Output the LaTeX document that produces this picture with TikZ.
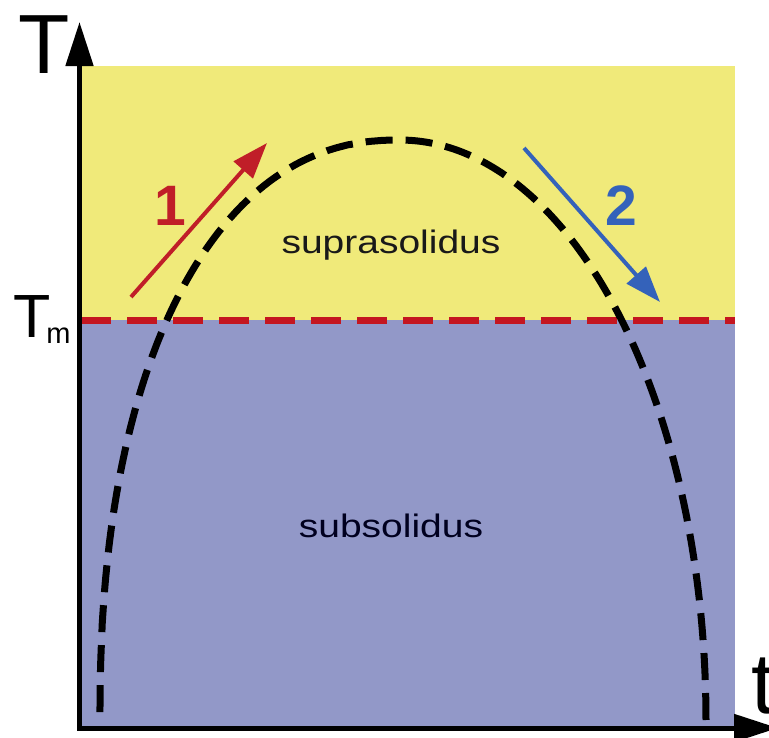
\documentclass[tikz,border=0pt]{standalone}
\usepackage{fontspec}
\setmainfont{Liberation Sans}
\usetikzlibrary{arrows.meta}
\definecolor{fillyellow}{RGB}{240,234,122}
\definecolor{fillblue}{RGB}{146,152,200}
\definecolor{tmred}{RGB}{196,22,32}
\definecolor{arrred}{RGB}{192,30,40}
\definecolor{arrblue}{RGB}{52,98,186}
\begin{document}
\begin{tikzpicture}[x=1pt,y=-1pt,
  axisline/.style={line width=5pt,-{Triangle[length=44pt,width=27pt]}},
  tmline/.style={tmred,line width=7pt,dash pattern=on 30pt off 16pt},
  curveline/.style={black,line width=7pt,dash pattern=on 27pt off 13pt},
  procarrow/.style={line width=4pt,-{Triangle[length=36pt,width=25pt]}},
  lbl/.style={inner sep=0pt,outer sep=0pt},
  regionlbl/.style={lbl,anchor=base,xscale=1.2,font=\fontsize{32.5}{33}\selectfont},
  numlbl/.style={lbl,anchor=base,font=\fontsize{57}{57}\selectfont\bfseries}]
\useasboundingbox (0,0) rectangle (769,737);
\clip (0,0) rectangle (769,737);
% regions
\fill[fillyellow] (81,66) rectangle (735,320);
\fill[fillblue] (81,320) rectangle (735,726);
% Tm line
\coordinate (tmL) at (81,320);
\coordinate (tmR) at (735,320);
\draw[tmline] (tmL) -- (tmR);
% dashed curve
\draw[curveline] plot[domain=0:180,samples=240,variable=\t]
  ({400+((\t<90)?306:300)*sign(cos(\t))*(max(abs(cos(\t)),0.00001))^((\t<90)?1:0.889)},
   {720-580*(max(abs(sin(\t)),0.00001))^((\t<90)?1:0.889)});
% axes
\coordinate (origin) at (79.5,728);
\coordinate (ytip) at (79.5,22);
\coordinate (xtip) at (778,728);
\draw[axisline] (79.5,728) -- (ytip);
\draw[axisline] (77,728) -- (xtip);
% process arrows
\coordinate (a1s) at (131,297);
\coordinate (a1e) at (267,143);
\draw[procarrow,arrred] (a1s) -- (a1e);
\coordinate (a2s) at (524,148);
\coordinate (a2e) at (660,302);
\draw[procarrow,arrblue] (a2s) -- (a2e);
% labels
\node[lbl,anchor=base west,font=\fontsize{84}{84}\selectfont] (Tlbl) at (19,73) {T};
\node[lbl,anchor=base west,font=\fontsize{61}{61}\selectfont] (Tmlbl) at (13,337)
  {T\kern-4pt\raisebox{-6pt}{\fontsize{29}{29}\selectfont m}};
\node[lbl,anchor=base west,font=\fontsize{86}{86}\selectfont] (tlbl) at (751,713) {t};
\node[numlbl,text=arrred] (one) at (170,225) {1};
\node[numlbl,text=arrblue] (two) at (621,225) {2};
\node[regionlbl,text=black!90] (supra) at (391,253) {suprasolidus};
\node[regionlbl,text=black!88!blue] (sub) at (391,537) {subsolidus};
\end{tikzpicture}
\end{document}
